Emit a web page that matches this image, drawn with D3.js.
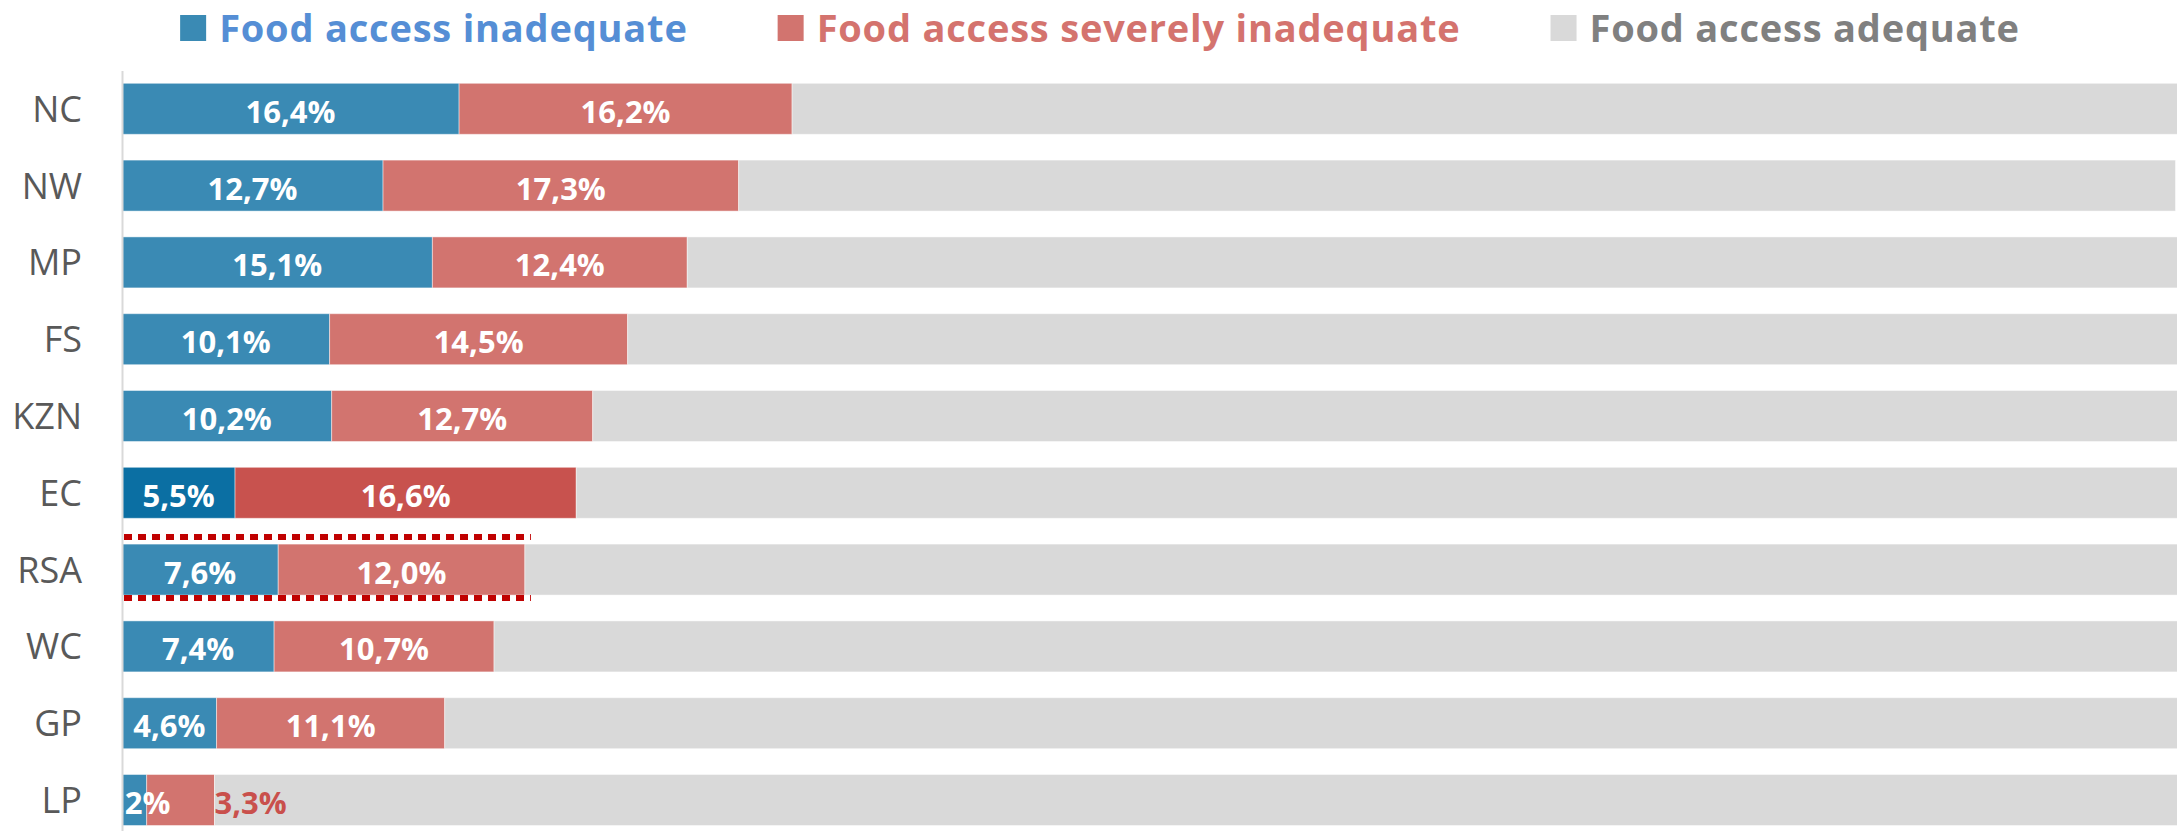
<!DOCTYPE html>
<html>
<head>
<meta charset="utf-8">
<script src="https://cdn.jsdelivr.net/npm/d3@7"></script>
<style>
  html, body { margin: 0; padding: 0; background: #fff; }
  svg { display: block; font-family: "Open Sans", "DejaVu Sans", sans-serif; }
</style>
</head>
<body>
<svg id="chart" width="2177" height="831"></svg>
<script>
// Share of households by food access level, per province (%)
const regions = ["NC", "NW", "MP", "FS", "KZN", "EC", "RSA", "WC", "GP", "LP"];
const inadequate = [16.4, 12.7, 15.1, 10.1, 10.2, 5.5, 7.6, 7.4, 4.6, 1.2];
const severelyInadequate = [16.2, 17.3, 12.4, 14.5, 12.7, 16.6, 12.0, 10.7, 11.1, 3.3];
const adequate = [67.4, 69.9, 72.5, 75.4, 77.1, 77.9, 80.4, 81.9, 84.3, 95.5];
const seriesNames = ["Food access inadequate", "Food access severely inadequate", "Food access adequate"];
const highlightRegion = "EC";
const nationalRegion = "RSA";

const keys = ["inadequate", "severe", "adequate"];
const baseColors = ["#3a8ab4", "#d2746f", "#d9d9d9"];
const highlightColors = ["#0b6fa3", "#c8524e", "#d9d9d9"];
const legendTextColors = ["#558ed5", "#d4736e", "#808080"];

const rows = regions.map((r, i) => ({
  region: r,
  inadequate: inadequate[i],
  severe: severelyInadequate[i],
  adequate: adequate[i]
}));

const svg = d3.select("#chart");
const W = 2177, H = 831;

const x = d3.scaleLinear().domain([0, 100]).range([122, 2177.5]);
const y = d3.scaleBand().domain(regions)
  .range([70.4, 838.4]).paddingInner(0.336).paddingOuter(0.168);

const stacked = d3.stack().keys(keys)(rows);

// Bars
const layers = svg.append("g").selectAll("g")
  .data(stacked).join("g");

layers.selectAll("rect")
  .data((s, si) => s.map(d => ({ d, si })))
  .join("rect")
  .attr("x", o => x(o.d[0]))
  .attr("y", o => y(o.d.data.region))
  .attr("width", o => x(o.d[1]) - x(o.d[0]))
  .attr("height", y.bandwidth())
  .attr("fill", o => (o.d.data.region === highlightRegion ? highlightColors : baseColors)[o.si])
  .attr("stroke", "rgba(255,255,255,0.45)")
  .attr("stroke-width", 1);

// Category axis
const axis = svg.append("g")
  .attr("transform", `translate(${x(0)},0)`)
  .call(d3.axisLeft(y).tickSize(0).tickPadding(40));
axis.select(".domain").attr("stroke", "#d9d9d9").attr("stroke-width", 2);
axis.selectAll(".tick text")
  .attr("font-size", 36)
  .attr("font-family", "\"Open Sans\", sans-serif")
  .attr("fill", "#595959")
  .attr("dy", "0.36em");

// Value labels (clipped to the plot area)
svg.append("clipPath").attr("id", "plotClip")
  .append("rect").attr("x", x(0) + 1).attr("y", 0).attr("width", W).attr("height", H);

const fmt = v => d3.format(".1f")(v).replace(".", ",") + "%";
const labelG = svg.append("g").attr("clip-path", "url(#plotClip)");

stacked.slice(0, 2).forEach((s, si) => {
  s.forEach(d => {
    const w = x(d[1]) - x(d[0]);
    const outside = si === 1 && w < 75;
    labelG.append("text")
      .attr("x", outside ? x(d[1]) : (x(d[0]) + x(d[1])) / 2)
      .attr("y", y(d.data.region) + y.bandwidth() / 2)
      .attr("dy", "0.45em")
      .attr("text-anchor", outside ? "start" : "middle")
      .attr("font-size", 31)
      .attr("font-weight", 700)
      .attr("fill", outside ? "#c9504c" : "#ffffff")
      .text(fmt(d[1] - d[0]));
  });
});

// Dotted frame around the national row
const rsaIdx = regions.indexOf(nationalRegion);
const rsaTotal = inadequate[rsaIdx] + severelyInadequate[rsaIdx];
[y(nationalRegion) - 7, y(nationalRegion) + y.bandwidth() + 3].forEach(yy => {
  svg.append("line")
    .attr("x1", x(0) + 2).attr("x2", x(rsaTotal) + 6)
    .attr("y1", yy).attr("y2", yy)
    .attr("stroke", "#c00000")
    .attr("stroke-width", 6)
    .attr("stroke-dasharray", "8,6");
});

// Legend
const legend = svg.append("g");
const items = seriesNames.map((name, i) => {
  const g = legend.append("g");
  g.append("rect").attr("width", 26).attr("height", 26).attr("y", 15).attr("fill", baseColors[i]);
  const t = g.append("text")
    .attr("x", 39).attr("y", 42)
    .attr("font-size", 38)
    .attr("font-weight", 700)
    .attr("letter-spacing", 0.8)
    .attr("fill", legendTextColors[i])
    .text(name);
  return { g, w: 39 + t.node().getComputedTextLength() };
});
const gap = 90;
const total = d3.sum(items, d => d.w) + gap * (items.length - 1);
let cx = 1100 - total / 2;
items.forEach(it => { it.g.attr("transform", `translate(${cx},0)`); cx += it.w + gap; });
</script>
</body>
</html>
